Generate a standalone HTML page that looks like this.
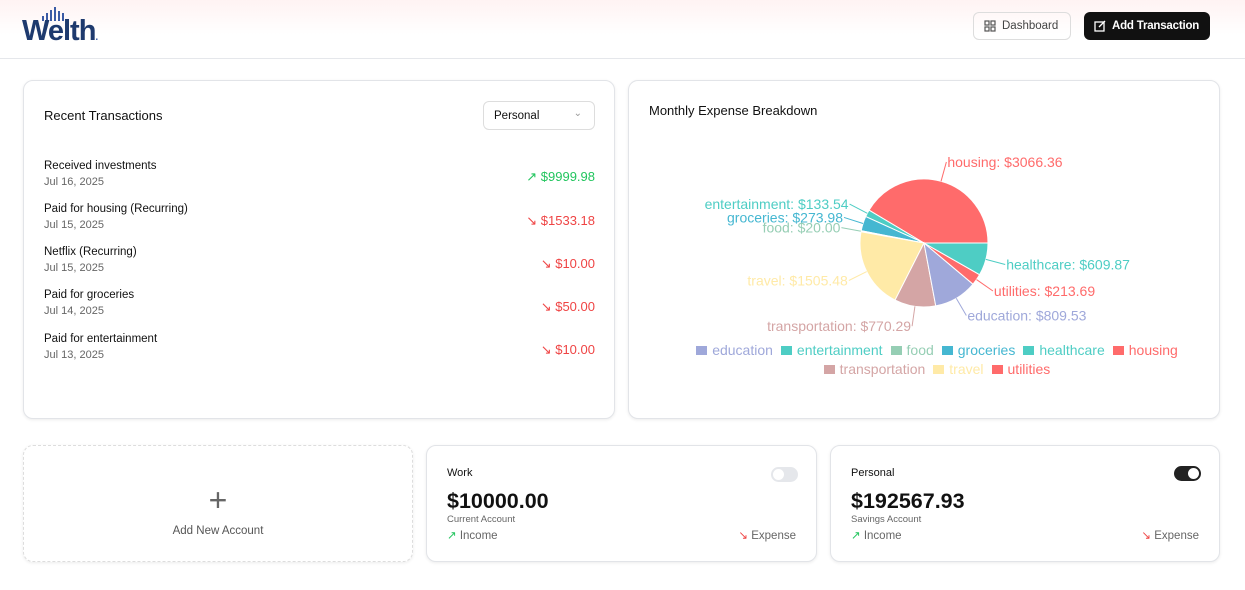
<!DOCTYPE html>
<html><head><meta charset="utf-8">
<style>
*{box-sizing:border-box;margin:0;padding:0}
body{width:1245px;height:590px;overflow:hidden;background:#fff;font-family:"Liberation Sans",sans-serif;color:#111;position:relative}
.hdr{position:absolute;left:0;top:0;width:1245px;height:59px;border-bottom:1px solid #e5e7eb;background:linear-gradient(180deg,#fff3f3 0%,#fff 60%)}
.card{position:absolute;border:1px solid #e2e4e8;border-radius:10px;background:#fff;box-shadow:0 1px 3px rgba(0,0,0,.08)}
.btn{position:absolute;height:28px;border-radius:6px;font-size:11.5px;font-weight:bold;display:flex;align-items:center;gap:6px;padding-left:10px;white-space:nowrap}
.tx{position:absolute;left:20px;font-size:11.5px}
.tx .d{color:#666;font-size:11px;margin-top:4px}
.amt{position:absolute;right:19px;font-size:13px}
.g{color:#22c55e}.r{color:#ef4444}
.lg{display:flex;justify-content:center;gap:8px;font-size:14px;line-height:19px}
.lg span{display:inline-flex;align-items:center;gap:5px}
.lg i{display:inline-block;width:11px;height:9px}
</style></head><body>
<div class="hdr">
 <div style="position:absolute;left:22px;top:7px;width:82px;height:37px">
  <svg width="82" height="14" style="position:absolute;top:0;left:0"><g fill="#3b5ba5"><rect x="20" y="9" width="2" height="5"/><rect x="24" y="6" width="2" height="8"/><rect x="28" y="3" width="2" height="11"/><rect x="32" y="0" width="2" height="14"/><rect x="36" y="4" width="2" height="10"/><rect x="40" y="6" width="2" height="8"/></g></svg>
  <div style="position:absolute;top:8px;left:0;font-size:29px;font-weight:bold;color:#1e3a6e;letter-spacing:-1px">Welth<span style="font-size:10px;color:#3b5ba5">.</span></div>
 </div>
 <div class="btn" style="left:973px;top:12px;width:98px;border:1px solid #ddd;color:#444;font-weight:normal">
  <svg width="12" height="12"><g fill="none" stroke="#555" stroke-width="1.2"><rect x="1" y="1" width="4" height="4"/><rect x="7" y="1" width="4" height="4"/><rect x="1" y="7" width="4" height="4"/><rect x="7" y="7" width="4" height="4"/></g></svg>Dashboard</div>
 <div class="btn" style="left:1084px;top:12px;width:126px;background:#111;color:#fff;font-size:11.5px;letter-spacing:-0.2px">
  <svg width="12" height="12"><g fill="none" stroke="#fff" stroke-width="1.3"><rect x="1" y="2" width="9" height="9"/><path d="M5 7 L11 1"/></g></svg>Add Transaction</div>
</div>

<div class="card" style="left:23px;top:80px;width:592px;height:339px">
 <div style="position:absolute;left:20px;top:27px;font-size:13px">Recent Transactions</div>
 <div style="position:absolute;left:459px;top:20px;width:112px;height:29px;border:1px solid #ddd;border-radius:6px;font-size:11.5px;padding:8px 10px">Personal<span style="position:absolute;right:12px;top:6px;color:#999;font-size:10px">&#8964;</span></div>
 <div class="tx" style="top:79px">Received investments<div class="d">Jul 16, 2025</div></div><div class="amt g" style="top:88px">&#8599; $9999.98</div>
 <div class="tx" style="top:122px">Paid for housing (Recurring)<div class="d">Jul 15, 2025</div></div><div class="amt r" style="top:132px">&#8600; $1533.18</div>
 <div class="tx" style="top:165px">Netflix (Recurring)<div class="d">Jul 15, 2025</div></div><div class="amt r" style="top:175px">&#8600; $10.00</div>
 <div class="tx" style="top:208px">Paid for groceries<div class="d">Jul 14, 2025</div></div><div class="amt r" style="top:218px">&#8600; $50.00</div>
 <div class="tx" style="top:252px">Paid for entertainment<div class="d">Jul 13, 2025</div></div><div class="amt r" style="top:261px">&#8600; $10.00</div>
</div>

<div class="card" style="left:628px;top:80px;width:592px;height:339px">
 <div style="position:absolute;left:20px;top:22px;font-size:13px">Monthly Expense Breakdown</div>
</div>
<svg id="pie" width="1245" height="590" style="position:absolute;left:0;top:0" font-family="Liberation Sans, sans-serif" font-size="14"></svg>
<div id="legend" style="position:absolute;left:637px;top:341px;width:600px"></div>

<div class="card" style="left:23px;top:445px;width:390px;height:117px;border:1px dashed #ddd">
 <div style="position:absolute;left:0;right:0;top:36px;text-align:center;font-size:32px;color:#666;font-weight:200">+</div>
 <div style="position:absolute;left:0;right:0;top:79px;text-align:center;font-size:11.5px;color:#555">Add New Account</div>
</div>
<div class="card" style="left:426px;top:445px;width:391px;height:117px">
 <div style="position:absolute;left:20px;top:21px;font-size:11px">Work</div>
 <div style="position:absolute;left:344px;top:21px;width:27px;height:15px;border-radius:8px;background:#e5e7eb"><div style="position:absolute;left:2px;top:2px;width:11px;height:11px;border-radius:50%;background:#fff"></div></div>
 <div style="position:absolute;left:20px;top:43px;font-size:21.5px;font-weight:bold">$10000.00</div>
 <div style="position:absolute;left:20px;top:68px;font-size:9.5px;color:#666">Current Account</div>
 <div style="position:absolute;left:20px;top:82px;font-size:11.5px;color:#666"><span class="g">&#8599;</span> Income</div>
 <div style="position:absolute;right:20px;top:82px;font-size:11.5px;color:#666"><span class="r">&#8600;</span> Expense</div>
</div>
<div class="card" style="left:830px;top:445px;width:390px;height:117px">
 <div style="position:absolute;left:20px;top:21px;font-size:11px">Personal</div>
 <div style="position:absolute;left:343px;top:20px;width:27px;height:15px;border-radius:8px;background:#222"><div style="position:absolute;left:14px;top:2px;width:11px;height:11px;border-radius:50%;background:#fff"></div></div>
 <div style="position:absolute;left:20px;top:43px;font-size:21.5px;font-weight:bold">$192567.93</div>
 <div style="position:absolute;left:20px;top:68px;font-size:9.5px;color:#666">Savings Account</div>
 <div style="position:absolute;left:20px;top:82px;font-size:11.5px;color:#666"><span class="g">&#8599;</span> Income</div>
 <div style="position:absolute;right:20px;top:82px;font-size:11.5px;color:#666"><span class="r">&#8600;</span> Expense</div>
</div>

<script>
const categories=["housing","entertainment","groceries","food","travel","transportation","education","utilities","healthcare"];
const values=[3066.36,133.54,273.98,20.00,1505.48,770.29,809.53,213.69,609.87];
const colors=["#ff6b6b","#4ecdc4","#45b7d1","#96ceb4","#ffeaa7","#d4a5a5","#9fa8da","#ff6b6b","#4ecdc4"];
const legendOrder=["education","entertainment","food","groceries","healthcare","housing","transportation","travel","utilities"];
const svg=document.getElementById('pie');const NS='http://www.w3.org/2000/svg';
const cx=924,cy=243,R=64;
const total=values.reduce((a,b)=>a+b,0);
const pt=(a,r)=>[cx+r*Math.cos(a*Math.PI/180),cy-r*Math.sin(a*Math.PI/180)];
let ang=0;
values.forEach((v,i)=>{
 const sw=v/total*360,a0=ang,a1=ang+sw;ang=a1;
 const p0=pt(a0,R),p1=pt(a1,R);
 const path=document.createElementNS(NS,'path');
 path.setAttribute('d',`M${cx},${cy} L${p0[0]},${p0[1]} A${R},${R} 0 ${sw>180?1:0} 0 ${p1[0]},${p1[1]} Z`);
 path.setAttribute('fill',colors[i]);path.setAttribute('stroke','#fff');
 
 
 svg.appendChild(path);
 const m=(a0+a1)/2,q0=pt(m,R),q1=pt(m,R+20);
 const ln=document.createElementNS(NS,'path');
 ln.setAttribute('d',`M${q0[0]},${q0[1]} L${q1[0]},${q1[1]}`);ln.setAttribute('stroke',colors[i]);ln.setAttribute('fill','none');
 
 
 svg.appendChild(ln);
 const t=document.createElementNS(NS,'text');
 t.setAttribute('x',q1[0]+(q1[0]>cx?1:-1));t.setAttribute('y',q1[1]);t.setAttribute('dy','0.35em');
 t.setAttribute('text-anchor',q1[0]>cx?'start':'end');t.setAttribute('fill',colors[i]);
 t.textContent=categories[i]+': $'+v.toFixed(2);
 
 
 svg.appendChild(t);
});
const lg=document.getElementById('legend');
[legendOrder.slice(0,6),legendOrder.slice(6)].forEach(row=>{
 const d=document.createElement('div');d.className='lg';
 row.forEach(c=>{const col=colors[categories.indexOf(c)];const s=document.createElement('span');
  
  
  s.style.color=col;s.innerHTML=`<i style="background:${col}"></i>${c}`;d.appendChild(s);});
 lg.appendChild(d);
});
</script>
</body></html>
